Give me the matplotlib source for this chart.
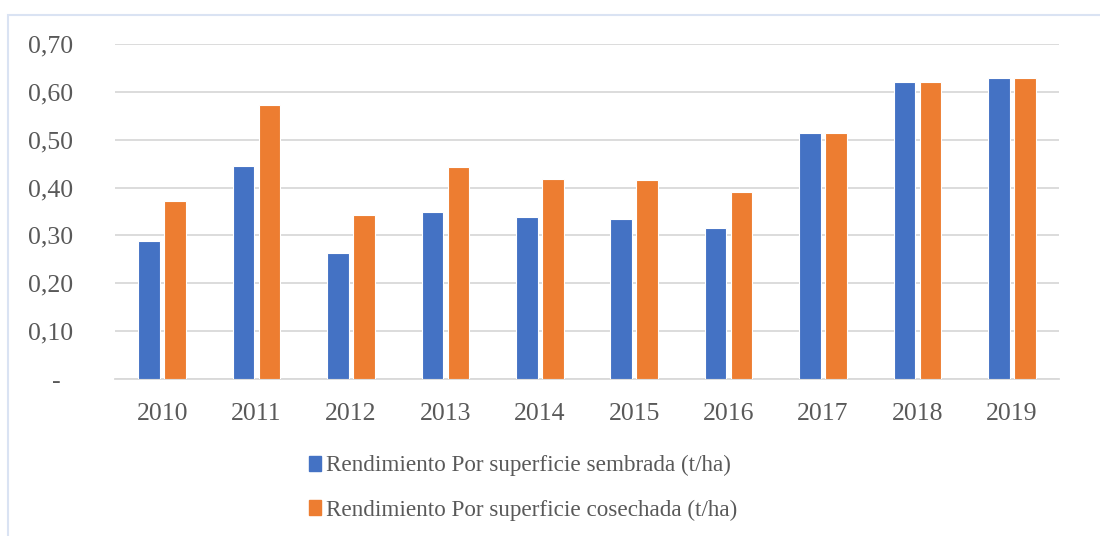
import matplotlib
matplotlib.use("Agg")
import matplotlib.pyplot as plt
import numpy as np
from matplotlib.patches import Rectangle, Patch
from matplotlib.ticker import FuncFormatter

years = ["2010", "2011", "2012", "2013", "2014", "2015", "2016", "2017", "2018", "2019"]
sembrada = [0.288, 0.445, 0.263, 0.350, 0.338, 0.334, 0.316, 0.515, 0.620, 0.628]
cosechada = [0.372, 0.572, 0.342, 0.442, 0.418, 0.416, 0.391, 0.515, 0.620, 0.628]
label_sembrada = "Rendimiento Por superficie sembrada (t/ha)"
label_cosechada = "Rendimiento Por superficie cosechada (t/ha)"

BLUE = "#4472C4"
ORANGE = "#ED7D31"
TEXT = "#595959"
GRID = "#D9D9D9"
FAMILY = ["Liberation Serif", "DejaVu Serif"]

plt.rcParams["font.family"] = FAMILY

W, H = 1100, 536
fig = plt.figure(figsize=(W / 100, H / 100), dpi=100)

# outer chart border (partially cropped at right/bottom)
fig.patches.append(Rectangle((8 / W, -0.05), 1.2, (H - 15) / H + 0.05,
                             transform=fig.transFigure, fill=False,
                             edgecolor="#DAE3F3", linewidth=1.5))

ax = fig.add_axes([115 / W, (H - 379) / H, (1059 - 115) / W, (379 - 44) / H])
x = np.arange(len(years))
bw = 0.23
off = 0.138
ax.bar(x - off, sembrada, bw, color=BLUE, edgecolor="white", linewidth=0.8, zorder=3)
ax.bar(x + off, cosechada, bw, color=ORANGE, edgecolor="white", linewidth=0.8, zorder=3)

ax.set_xlim(-0.5, len(years) - 0.5)
ax.set_ylim(0, 0.70)
ax.set_yticks(np.arange(0, 0.71, 0.1))
ax.yaxis.set_major_formatter(FuncFormatter(
    lambda v, p: "-  " if abs(v) < 1e-9 else f"{v:.2f}".replace(".", ",")))
ax.set_xticks(x)
ax.set_xticklabels(years)
ax.grid(axis="y", color=GRID, linewidth=1.3, zorder=0)
ax.set_axisbelow(True)
for s in ["top", "right", "left"]:
    ax.spines[s].set_visible(False)
ax.spines["bottom"].set_color(GRID)
ax.spines["bottom"].set_linewidth(1.3)
ax.tick_params(axis="both", length=0, labelsize=18.5, labelcolor=TEXT)
ax.tick_params(axis="x", pad=17)
ax.tick_params(axis="y", pad=30)

handles = [Patch(color=BLUE, label=label_sembrada), Patch(color=ORANGE, label=label_cosechada)]
fig.legend(handles=handles, loc="upper left", bbox_to_anchor=(309 / W, (H - 455) / H),
           frameon=False, prop={"family": FAMILY, "size": 16.7}, labelcolor=TEXT,
           handlelength=0.52, handleheight=0.62, handletextpad=0.22, labelspacing=1.0,
           borderaxespad=0, borderpad=0)

fig.savefig("out.png", dpi=100, facecolor="white")
